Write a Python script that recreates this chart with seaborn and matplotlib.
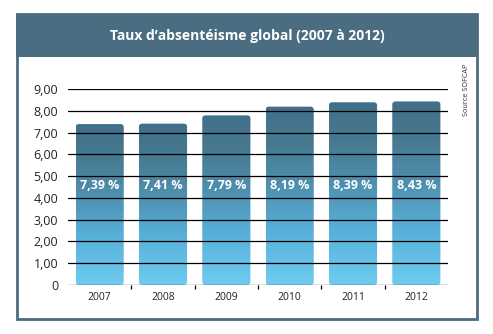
import numpy as np
import pandas as pd
import matplotlib
matplotlib.use("Agg")
import matplotlib.pyplot as plt
import seaborn as sns
from matplotlib.colors import LinearSegmentedColormap
from matplotlib.patches import FancyBboxPatch, Rectangle
from matplotlib.ticker import FixedLocator

years = ["2007", "2008", "2009", "2010", "2011", "2012"]
rates = [7.39, 7.41, 7.79, 8.19, 8.39, 8.43]
yticks = [0, 1, 2, 3, 4, 5, 6, 7, 8, 9]
ytick_labels = ["0", "1,00", "2,00", "3,00", "4,00", "5,00", "6,00", "7,00", "8,00", "9,00"]
title = "Taux d’absentéisme global (2007 à 2012)"
source = "Source SOFCAP"

sns.set_theme(style="white")
plt.rcParams["font.family"] = ["Open Sans", "DejaVu Sans"]

W, H = 493, 334
fig = plt.figure(figsize=(W / 100, H / 100), dpi=100)
fig.patch.set_facecolor("white")

# frame and header
frame_col = "#4b6c7f"
fig.patches.append(Rectangle((17 / W, 1 - 319 / H), 460 / W, 305 / H, transform=fig.transFigure,
                             facecolor="white", edgecolor=frame_col, linewidth=2, zorder=-2))
fig.patches.append(Rectangle((16 / W, 1 - 57 / H), 462 / W, 43 / H, transform=fig.transFigure,
                             facecolor="#4a6d81", edgecolor="none", zorder=-1))
fig.text(247 / W, 1 - 36 / H, title, ha="center", va="center", color="white",
         fontsize=10, fontweight="bold")
fig.text(466 / W, 1 - 90 / H, source, rotation=90, ha="center", va="center",
         color="#333333", fontsize=5.2)

ax = fig.add_axes([68 / W, 1 - 285 / H, 380 / W, 196 / H])
ax.set_zorder(2)
ax.set_facecolor("none")
df = pd.DataFrame({"year": years, "rate": rates})
sns.barplot(data=df, x="year", y="rate", ax=ax, width=0.76, color="#4a85a3",
            edgecolor="none", errorbar=None)

cmap = LinearSegmentedColormap.from_list(
    "grad", [(0.0, "#6fcbef"), (0.3, "#58b0da"), (0.55, "#4f90b0"), (0.8, "#46798f"), (1.0, "#41708a")])
grad = np.linspace(0, 1, 256).reshape(-1, 1)

ax.set_xlim(-0.5, 5.5)
ax.set_ylim(0, 9)

for p in ax.patches:
    x0, w, h = p.get_x(), p.get_width(), p.get_height()
    p.set_visible(False)
    rp = FancyBboxPatch((x0, 0), w, h, boxstyle="round,pad=0,rounding_size=0.05",
                        mutation_aspect=2.9, transform=ax.transData,
                        facecolor="none", edgecolor="none")
    ax.add_patch(rp)
    im = ax.imshow(grad, extent=(x0, x0 + w, 0, h), origin="lower", cmap=cmap,
                   aspect="auto", zorder=1.5)
    im.set_clip_path(rp)
    ax.text(x0 + w / 2, 4.55, f"{h:.2f} %".replace(".", ","), ha="center", va="center",
            color="white", fontsize=9, fontweight="bold", zorder=5)

ax.set_xlim(-0.5, 5.5)
ax.set_ylim(0, 9)

for yv in yticks:
    ax.axhline(yv, color="black", linewidth=0.9, zorder=3)

ax.set_yticks(yticks)
ax.set_yticklabels(ytick_labels, fontsize=9, color="#222222")
ax.set_xticks(range(len(years)))
ax.set_xticklabels(years, fontsize=7.5, color="#222222")
ax.tick_params(axis="both", which="major", length=0)
ax.tick_params(axis="y", pad=7)
ax.tick_params(axis="x", pad=5)
ax.xaxis.set_minor_locator(FixedLocator([0.5, 1.5, 2.5, 3.5, 4.5]))
ax.tick_params(axis="x", which="minor", bottom=True, length=3, width=0.9, color="black",
               direction="out", pad=0)
ax.set_xlabel("")
ax.set_ylabel("")
for s in ax.spines.values():
    s.set_visible(False)

fig.savefig("out.png", dpi=100)
